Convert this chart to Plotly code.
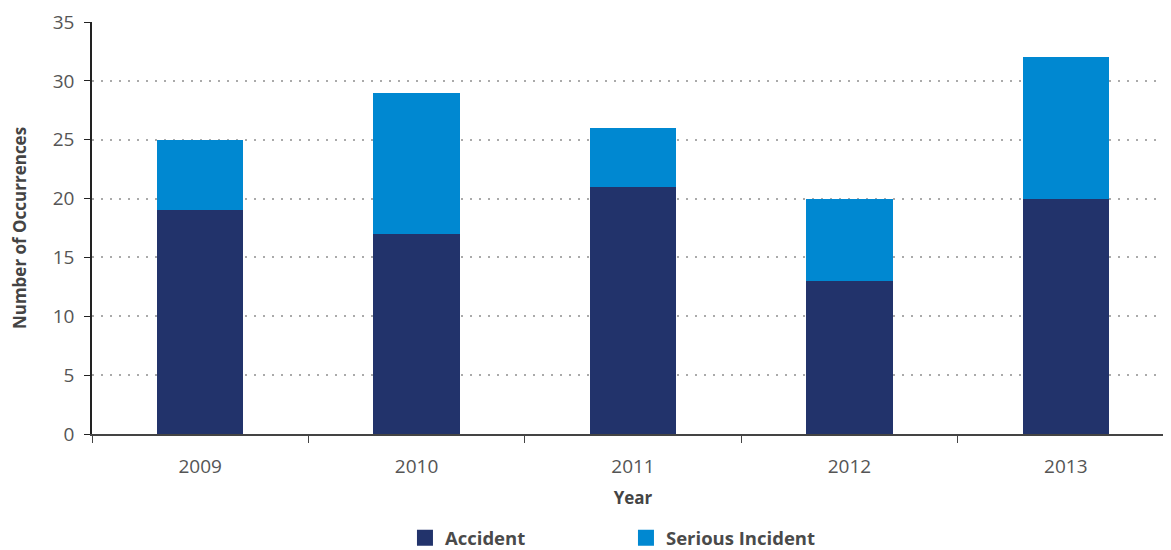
import plotly.graph_objects as go

years = ["2009", "2010", "2011", "2012", "2013"]
accident = [19, 17, 21, 13, 20]
serious_incident = [6, 12, 5, 7, 12]

colors = {"Accident": "#22336b", "Serious Incident": "#0088d1"}

fig = go.Figure()
fig.add_trace(go.Bar(x=years, y=accident, name="Accident", marker_color=colors["Accident"],
                     marker_line_width=0, showlegend=False))
fig.add_trace(go.Bar(x=years, y=serious_incident, name="Serious Incident",
                     marker_color=colors["Serious Incident"], marker_line_width=0, showlegend=False))

# legend entries with bigger square swatches
for name, c in colors.items():
    fig.add_trace(go.Scatter(x=[None], y=[None], mode="markers", name=name,
                             marker=dict(symbol="square", size=16, color=c)))

# page has 8px body margin; the original axis runs off the right edge a little
fig.update_layout(
    barmode="stack",
    bargap=0.6,
    width=1166,
    height=553,
    margin=dict(l=84, r=0, t=14, b=127),
    plot_bgcolor="white",
    paper_bgcolor="white",
    font=dict(family="Open Sans", color="#555555", size=19),
    legend=dict(
        orientation="h",
        x=0.4935,
        xanchor="center",
        y=-0.299,
        yanchor="bottom",
        font=dict(size=18.5, color="#4a4a4a", weight="bold"),
        entrywidth=176,
        traceorder="normal",
        itemsizing="trace",
        borderwidth=0,
    ),
    xaxis=dict(
        title=dict(text="Year", font=dict(size=17, color="#444444", weight="bold"), standoff=15),
        automargin=False,
        showline=True,
        linecolor="#444444",
        linewidth=1.5,
        ticks="outside",
        tickson="boundaries",
        ticklen=7,
        tickcolor="#444444",
        ticklabelstandoff=14,
        showgrid=False,
    ),
    yaxis=dict(
        title=dict(text="Number of Occurrences", font=dict(size=17, color="#444444", weight="bold"), standoff=22),
        automargin=False,
        range=[0, 35],
        dtick=5,
        showline=True,
        linecolor="#222222",
        linewidth=1.5,
        ticks="outside",
        ticklen=6,
        tickcolor="#222222",
        ticklabelstandoff=6,
        showgrid=True,
        gridcolor="#aaaaaa",
        griddash="2px,7px",
        gridwidth=2,
        zeroline=False,
    ),
)

fig.write_html("out.html")
